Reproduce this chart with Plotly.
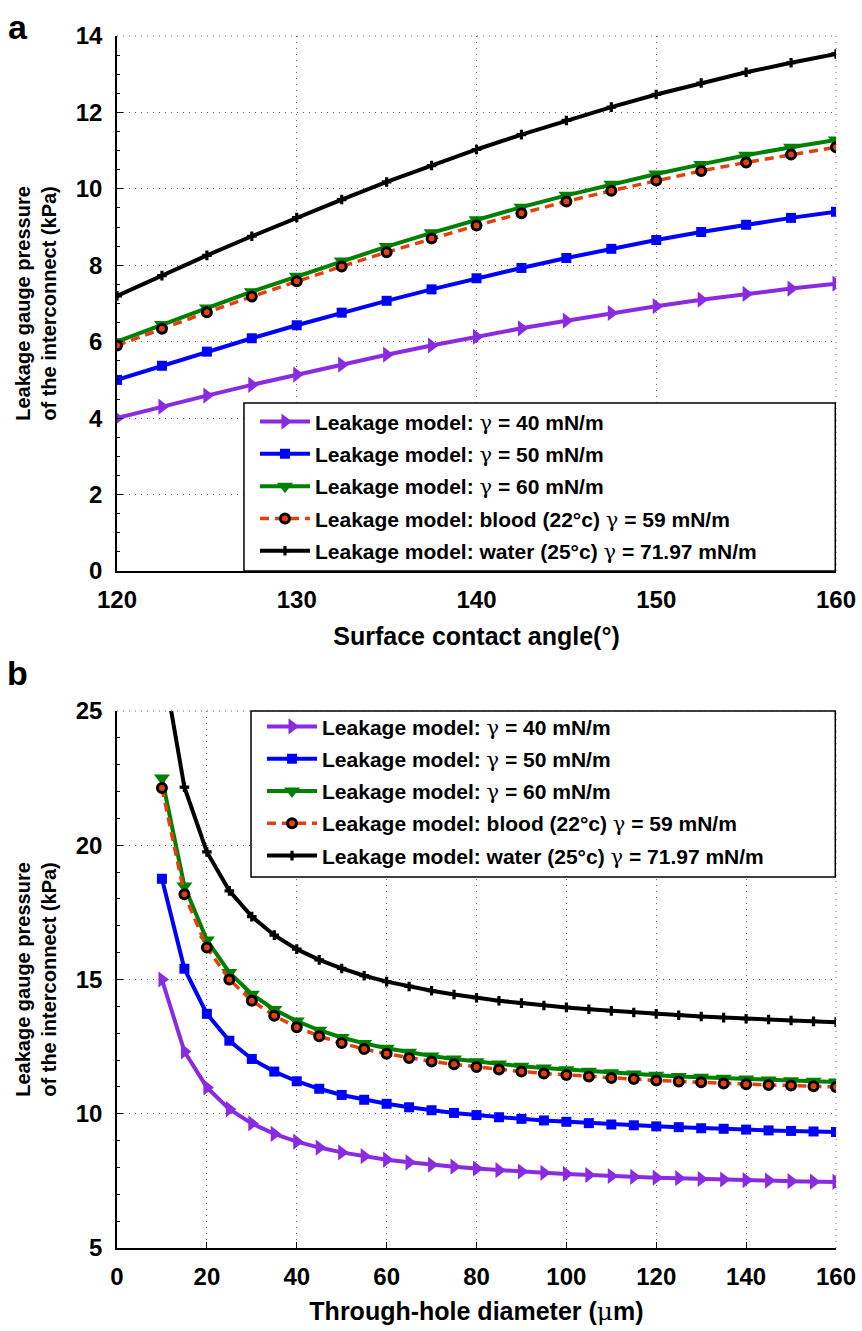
import plotly.graph_objects as go

# ---------------- data ----------------
G = "<span style=\"font-family:'DejaVu Serif';font-weight:normal\">γ</span>"
names = [
    "Leakage model: " + G + " = 40 mN/m",
    "Leakage model: " + G + " = 50 mN/m",
    "Leakage model: " + G + " = 60 mN/m",
    "Leakage model: blood (22°c) " + G + " = 59 mN/m",
    "Leakage model: water (25°c) " + G + " = 71.97 mN/m",
]

# panel a: surface contact angle (deg)
angle = [120, 122.5, 125, 127.5, 130, 132.5, 135, 137.5, 140, 142.5, 145,
         147.5, 150, 152.5, 155, 157.5, 160]
a_g40 = [4.00, 4.30, 4.59, 4.87, 5.14, 5.40, 5.66, 5.90, 6.13, 6.35, 6.55,
         6.75, 6.93, 7.10, 7.25, 7.39, 7.52]
a_g50 = [5.00, 5.37, 5.74, 6.09, 6.43, 6.76, 7.07, 7.37, 7.66, 7.93, 8.19,
         8.43, 8.66, 8.87, 9.06, 9.24, 9.40]
a_g60 = [6.00, 6.45, 6.88, 7.31, 7.71, 8.11, 8.49, 8.85, 9.19, 9.52, 9.83,
         10.12, 10.39, 10.64, 10.88, 11.09, 11.28]
a_blood = [5.90, 6.34, 6.77, 7.18, 7.58, 7.97, 8.34, 8.70, 9.04, 9.36, 9.67,
           9.95, 10.22, 10.47, 10.69, 10.90, 11.09]
a_water = [7.20, 7.73, 8.26, 8.76, 9.25, 9.72, 10.18, 10.61, 11.03, 11.42, 11.79,
           12.14, 12.47, 12.77, 13.05, 13.30, 13.53]

# panel b: through-hole diameter (um)
diam = [10, 15, 20, 25, 30, 35, 40, 45, 50, 55, 60, 65, 70, 75, 80, 85, 90, 95,
        100, 105, 110, 115, 120, 125, 130, 135, 140, 145, 150, 155, 160]
b_g40 = [15.00, 12.32, 10.98, 10.17, 9.64, 9.25, 8.96, 8.74, 8.56, 8.42, 8.29,
         8.19, 8.10, 8.03, 7.96, 7.90, 7.85, 7.80, 7.76, 7.72, 7.68, 7.65, 7.62,
         7.60, 7.57, 7.55, 7.53, 7.51, 7.49, 7.47, 7.46]
b_g50 = [18.75, 15.40, 13.72, 12.72, 12.04, 11.57, 11.21, 10.93, 10.70, 10.52,
         10.37, 10.24, 10.13, 10.03, 9.95, 9.87, 9.81, 9.75, 9.70, 9.65, 9.60,
         9.57, 9.53, 9.50, 9.46, 9.44, 9.41, 9.38, 9.36, 9.34, 9.32]
b_g60 = [22.50, 18.48, 16.47, 15.26, 14.45, 13.88, 13.45, 13.11, 12.84, 12.62,
         12.44, 12.29, 12.15, 12.04, 11.94, 11.85, 11.77, 11.70, 11.64, 11.58,
         11.53, 11.48, 11.43, 11.39, 11.36, 11.32, 11.29, 11.26, 11.23, 11.21, 11.18]
b_blood = [22.13, 18.17, 16.19, 15.00, 14.21, 13.65, 13.22, 12.89, 12.63, 12.41,
           12.23, 12.08, 11.95, 11.84, 11.74, 11.65, 11.57, 11.50, 11.44, 11.39,
           11.33, 11.29, 11.24, 11.20, 11.17, 11.13, 11.10, 11.07, 11.05, 11.02, 11.00]
b_water = [26.99, 22.16, 19.75, 18.30, 17.34, 16.65, 16.13, 15.73, 15.41, 15.14,
           14.92, 14.74, 14.58, 14.44, 14.32, 14.21, 14.12, 14.03, 13.96, 13.89,
           13.83, 13.77, 13.72, 13.67, 13.62, 13.58, 13.54, 13.51, 13.47, 13.44, 13.41]

a_series = [a_g40, a_g50, a_g60, a_blood, a_water]
b_series = [b_g40, b_g50, b_g60, b_blood, b_water]

# ---------------- styles ----------------
FONT = "Liberation Sans, Arial, Helvetica, sans-serif"
styles = [
    dict(line=dict(color="#8A2BE2", width=4),
         marker=dict(symbol="triangle-right", size=14, color="#8A2BE2")),
    dict(line=dict(color="#0000FF", width=4),
         marker=dict(symbol="square", size=10, color="#0000FF")),
    dict(line=dict(color="#008000", width=4),
         marker=dict(symbol="triangle-down", size=14, color="#008000")),
    dict(line=dict(color="#E4400F", width=3.5, dash="9px,6px"),
         marker=dict(symbol="circle", size=9, color="#E4400F",
                     line=dict(color="black", width=3))),
    dict(line=dict(color="black", width=4),
         marker=dict(symbol="cross", size=8, color="black")),
]

fig = go.Figure()
for i, (nm, ys) in enumerate(zip(names, a_series)):
    fig.add_trace(go.Scatter(x=angle, y=ys, name=nm, mode="lines+markers",
                             xaxis="x", yaxis="y", legend="legend",
                             legendgroup="a%d" % i, **styles[i]))
for i, (nm, ys) in enumerate(zip(names, b_series)):
    fig.add_trace(go.Scatter(x=diam, y=ys, name=nm, mode="lines+markers",
                             xaxis="x2", yaxis="y2", legend="legend2",
                             legendgroup="b%d" % i, **styles[i]))

ytitle = "Leakage gauge pressure<br>of the interconnect (kPa)"
common_ax = dict(
    showline=True, linecolor="black", linewidth=1.5,
    ticks="inside", ticklen=6, tickwidth=1.2, tickcolor="black",
    showgrid=True, gridcolor="#666666", griddash="1px,5px", gridwidth=1,
    zeroline=False, tickfont=dict(size=24, family=FONT, color="black", weight="bold"),
    mirror=False, automargin=False,
)
minor = dict(ticks="inside", ticklen=3, tickcolor="black", nticks=5, showgrid=False)

fig.update_layout(
    width=862, height=1331,
    margin=dict(l=117, r=26, t=36, b=83),
    paper_bgcolor="white", plot_bgcolor="white",
    font=dict(family=FONT, color="black", weight="bold"),
    xaxis=dict(domain=[0, 1], anchor="y", range=[120, 160], dtick=10,
               title=dict(text="Surface contact angle(°)", standoff=16,
                          font=dict(size=25, family=FONT, weight="bold")),
               ticklabelstandoff=6, **common_ax),
    yaxis=dict(domain=[0.5586, 1], anchor="x", range=[0, 14], dtick=2,
               title=dict(text=ytitle, standoff=14,
                          font=dict(size=20, family=FONT, weight="bold")),
               ticklabelstandoff=8, minor=minor, **common_ax),
    xaxis2=dict(domain=[0, 1], anchor="y2", range=[0, 160], dtick=20,
                title=dict(text="Through-hole diameter (<span style=\"font-family:'DejaVu Serif';font-weight:normal\">μ</span>m)",
                           standoff=14,
                           font=dict(size=25, family=FONT, weight="bold")),
                ticklabelstandoff=6, **common_ax),
    yaxis2=dict(domain=[0, 0.4431], anchor="x2", range=[5, 25], dtick=5,
                title=dict(text=ytitle, standoff=14,
                           font=dict(size=20, family=FONT, weight="bold")),
                ticklabelstandoff=8, minor=minor, **common_ax),
    legend=dict(x=0.1919, y=0.6985, xanchor="left", yanchor="top",
                bgcolor="rgba(0,0,0,0)", borderwidth=0, itemwidth=50,
                tracegroupgap=2, font=dict(size=21, family=FONT, weight="bold")),
    legend2=dict(x=0.2017, y=0.4470, xanchor="left", yanchor="top",
                 bgcolor="rgba(0,0,0,0)", borderwidth=0, itemwidth=50,
                 tracegroupgap=2, font=dict(size=21, family=FONT, weight="bold")),
    showlegend=True,
)

# dotted grid at the far edges (top and right)
for xr, yr in (("x domain", "y domain"), ("x2 domain", "y2 domain")):
    fig.add_shape(type="line", xref=xr, yref=yr, x0=0, x1=1, y0=1, y1=1,
                  line=dict(color="#666666", width=1, dash="1px,5px"))
    fig.add_shape(type="line", xref=xr, yref=yr, x0=1, x1=1, y0=0, y1=1,
                  line=dict(color="#666666", width=1, dash="1px,5px"))

# legend frames
fig.add_shape(type="rect", xref="x domain", yref="y domain",
              x0=0.1766, x1=0.999, y0=0.0, y1=0.314, layer="above",
              fillcolor="white", line=dict(color="black", width=1.5))
fig.add_shape(type="rect", xref="x2 domain", yref="y2 domain",
              x0=0.1864, x1=0.999, y0=0.691, y1=1.0, layer="above",
              fillcolor="white", line=dict(color="black", width=1.5))

# panel labels
fig.add_annotation(text="a", x=-0.1377, y=1.0074, xref="paper", yref="paper",
                   showarrow=False, xanchor="center", yanchor="middle",
                   font=dict(size=34, family=FONT, weight="bold"))
fig.add_annotation(text="b", x=-0.1377, y=0.4745, xref="paper", yref="paper",
                   showarrow=False, xanchor="center", yanchor="middle",
                   font=dict(size=34, family=FONT, weight="bold"))

fig.write_html("out.html")
